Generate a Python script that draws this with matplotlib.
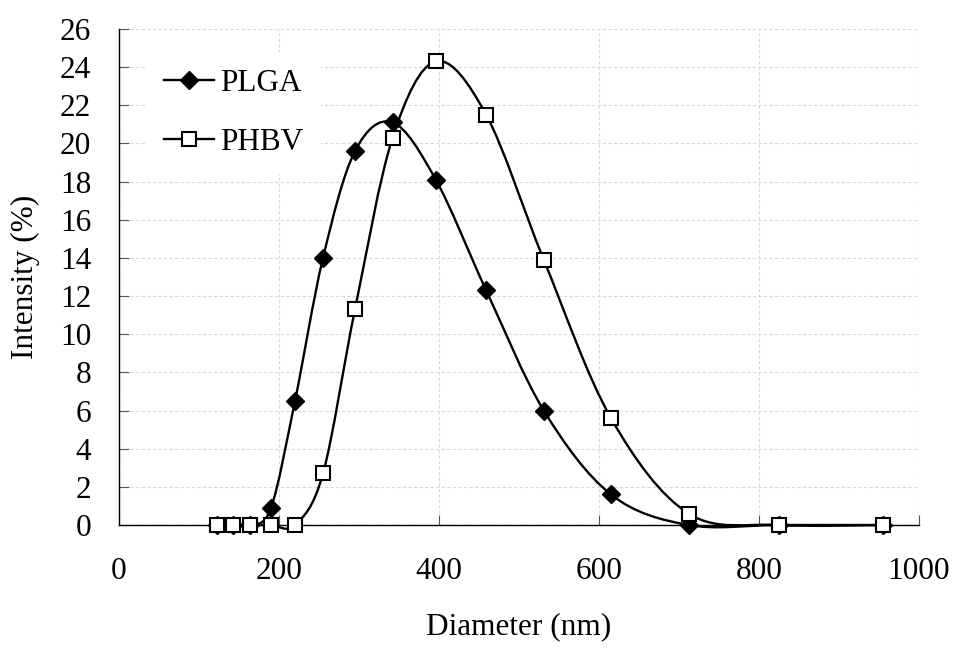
import numpy as np
import matplotlib
matplotlib.use("Agg")
import matplotlib.pyplot as plt
from matplotlib.path import Path
from matplotlib.patches import PathPatch
from matplotlib.lines import Line2D

plt.rcParams['font.family'] = ['Liberation Serif', 'DejaVu Serif']

# размер частиц, нм (общие бины DLS)
diameter = [122, 142, 164, 190, 220, 255, 295, 342, 396, 459, 531, 615, 712, 825, 955]
plga = [0, 0, 0, 0.9, 6.5, 14.0, 19.6, 21.1, 18.1, 12.3, 6.0, 1.6, 0, 0, 0]
phbv = [0, 0, 0, 0, 0, 2.7, 11.3, 20.3, 24.3, 21.5, 13.9, 5.6, 0.6, 0, 0]

x_ticks = [0, 200, 400, 600, 800, 1000]
y_ticks = list(range(0, 27, 2))


def smooth_path(xs, ys):
    # сглаженная линия как в Excel (кривые Безье через точки)
    pts = np.column_stack([xs, ys]).astype(float)
    n = len(pts)
    verts = [pts[0]]
    codes = [Path.MOVETO]
    for i in range(n - 1):
        p0 = pts[i - 1] if i > 0 else pts[i]
        p1 = pts[i]
        p2 = pts[i + 1]
        p3 = pts[i + 2] if i + 2 < n else pts[i + 1]
        c1 = p1 + (p2 - p0) / 6
        c2 = p2 - (p3 - p1) / 6
        verts += [c1, c2, p2]
        codes += [Path.CURVE4] * 3
    return Path(verts, codes)


fig = plt.figure(figsize=(9.54, 6.55), dpi=100)
ax = fig.add_axes([119 / 954, 1 - 525 / 655, 800 / 954, 496 / 655])

fs = 22.5

ax.add_patch(PathPatch(smooth_path(diameter, plga), fill=False, lw=1.7,
                       edgecolor='black', zorder=3, clip_on=False))
ax.plot(diameter, plga, linestyle='none', marker='D', markersize=9,
        color='black', zorder=4, clip_on=False)

ax.add_patch(PathPatch(smooth_path(diameter, phbv), fill=False, lw=1.7,
                       edgecolor='black', zorder=5, clip_on=False))
ax.plot(diameter, phbv, linestyle='none', marker='s', markersize=10.5,
        markerfacecolor='white', markeredgecolor='black', markeredgewidth=1.5,
        zorder=6, clip_on=False)

ax.set_xlim(0, 1000)
ax.set_ylim(0, 26)
ax.set_xticks(x_ticks)
ax.set_yticks(y_ticks)
ax.tick_params(axis='both', direction='in', length=7, width=0.8,
               labelsize=fs, color='#555555')
ax.tick_params(axis='x', pad=23)
ax.tick_params(axis='y', pad=20)

ax.grid(True, color='#d9d9d9', linestyle=(0, (3, 2)), linewidth=0.8)
ax.set_axisbelow(True)
for s in ['top', 'right']:
    ax.spines[s].set_visible(False)
for s in ['left', 'bottom']:
    ax.spines[s].set_linewidth(1.0)
    ax.spines[s].set_color('black')

fig.text(519 / 954, 1 - 627 / 655, 'Diameter (nm)', fontsize=fs,
         ha='center', va='center')
fig.text(25 / 954, 1 - 277 / 655, 'Intensity (%)', fontsize=fs,
         ha='center', va='center', rotation=90)

handles = [
    Line2D([], [], color='black', lw=1.7, marker='D', markersize=9),
    Line2D([], [], color='black', lw=1.7, marker='s', markersize=10,
           markerfacecolor='white', markeredgecolor='black', markeredgewidth=1.5),
]
leg = ax.legend(handles, ['PLGA', 'PHBV'], loc='upper left',
                bbox_to_anchor=(147 / 954, 1 - 52 / 655),
                bbox_transform=fig.transFigure, borderaxespad=0,
                frameon=True, fontsize=fs, handlelength=1.6,
                handletextpad=0.2, labelspacing=0.95, borderpad=0.55,
                fancybox=False)
leg.get_frame().set_edgecolor('none')
leg.get_frame().set_facecolor('white')
leg.get_frame().set_alpha(1)

fig.savefig('out.png', dpi=100)
